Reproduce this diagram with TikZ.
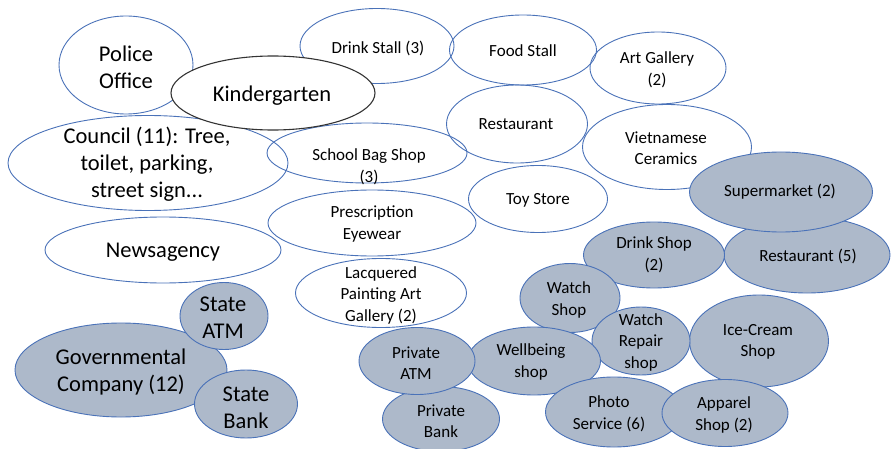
\documentclass[tikz,border=0pt]{standalone}
\usepackage{fontspec}
\setmainfont{Carlito}
\usetikzlibrary{shapes.geometric}
\definecolor{bl}{HTML}{4A72B8}
\definecolor{bfill}{HTML}{ADB9CA}
\tikzset{
  ell/.style={ellipse, draw=bl, line width=0.9pt, inner sep=0pt},
  wel/.style={ell},
  gel/.style={ell, fill=bfill},
  kel/.style={ellipse, draw=black!80, line width=1.1pt, fill=white, inner sep=0pt},
  big/.style={align=center, inner sep=0pt, yshift=-1pt, font=\fontsize{22.5}{27}\selectfont},
  sml/.style={align=center, inner sep=0pt, yshift=-1pt, font=\fontsize{17}{21.5}\selectfont},
}
\begin{document}
\begin{tikzpicture}[x=1pt,y=-1pt]
\useasboundingbox (0,0) rectangle (891,449);
% white (outline only) ellipses
\node[wel, minimum width=134pt, minimum height=98pt] (police) at (126,65) {};
\node[big] (policet) at (126,66) {Police\\Office};
\node[wel, minimum width=154pt, minimum height=75pt] (drinkstall) at (377,46) {};
\node[sml] (drinkstallt) at (378,47) {Drink Stall (3)};
\node[wel, minimum width=280pt, minimum height=95pt] (council) at (148,163) {};
\node[big] (councilt) at (147,163) {Council (11): Tree,\\toilet, parking,\\street sign...};
\node[wel, minimum width=200pt, minimum height=60pt] (bag) at (367,153) {};
\node[sml] (bagt) at (369,166) {School Bag Shop\\(3)};
\node[kel, minimum width=204pt, minimum height=74pt] (kinder) at (273,93) {};
\node[big] (kindert) at (272,95) {Kindergarten};
\node[wel, minimum width=147pt, minimum height=70pt] (food) at (523,50) {};
\node[sml] (foodt) at (523,50) {Food Stall};
\node[wel, minimum width=136pt, minimum height=72pt] (art) at (658,68) {};
\node[sml] (artt) at (657,69) {Art Gallery\\(2)};
\node[wel, minimum width=141pt, minimum height=78pt] (rest) at (517,124) {};
\node[sml] (restt) at (516,123) {Restaurant};
\node[wel, minimum width=169pt, minimum height=85pt] (viet) at (667,147) {};
\node[sml] (viett) at (666,147) {Vietnamese\\Ceramics};
\node[wel, minimum width=139pt, minimum height=67pt] (toy) at (538,199) {};
\node[sml] (toyt) at (538,199) {Toy Store};
\node[wel, minimum width=208pt, minimum height=66pt] (eye) at (372,223) {};
\node[sml] (eyet) at (372,223) {Prescription\\Eyewear};
\node[wel, minimum width=236pt, minimum height=66pt] (news) at (163,250) {};
\node[big] (newst) at (163,251) {Newsagency};
\node[wel, minimum width=171pt, minimum height=69pt] (lacq) at (381,293) {};
\node[sml] (lacqt) at (381,294) {Lacquered\\Painting Art\\Gallery (2)};
% filled ellipses
\node[gel, minimum width=166pt, minimum height=76pt] (rest5) at (807,255) {};
\node[sml] (rest5t) at (808,255) {Restaurant (5)};
\node[gel, minimum width=183pt, minimum height=80pt] (super) at (781,192) {};
\node[sml] (supert) at (780,191) {Supermarket (2)};
\node[gel, minimum width=141pt, minimum height=66pt] (drinkshop) at (654,255) {};
\node[sml] (drinkshopt) at (654,254) {Drink Shop\\(2)};
\node[gel, minimum width=100pt, minimum height=69pt] (watch) at (570,298) {};
\node[sml] (watcht) at (569,299) {Watch\\Shop};
\node[gel, minimum width=139pt, minimum height=92pt] (ice) at (759,341) {};
\node[sml] (icet) at (758,341) {Ice-Cream\\Shop};
\node[gel, minimum width=98pt, minimum height=68pt] (repair) at (641,341) {};
\node[sml] (repairt) at (641,341) {Watch\\Repair\\shop};
\node[gel, minimum width=133pt, minimum height=68pt] (well) at (534,361) {};
\node[sml] (wellt) at (531,361) {Wellbeing\\shop};
\node[gel, minimum width=117pt, minimum height=65pt] (pbank) at (441,419) {};
\node[sml] (pbankt) at (441,420) {Private\\Bank};
\node[gel, minimum width=116pt, minimum height=67pt] (patm) at (417,361) {};
\node[sml] (patmt) at (416,362) {Private\\ATM};
\node[gel, minimum width=137pt, minimum height=70pt] (photo) at (614,412) {};
\node[sml] (photot) at (609,413) {Photo\\Service (6)};
\node[gel, minimum width=126pt, minimum height=67pt] (apparel) at (725,413) {};
\node[sml] (apparelt) at (724,414) {Apparel\\Shop (2)};
\node[gel, minimum width=212pt, minimum height=94pt] (gov) at (121,370) {};
\node[big] (govt) at (121,371) {Governmental\\Company (12)};
\node[gel, minimum width=88pt, minimum height=67pt] (satm) at (224,316) {};
\node[big] (satmt) at (223,317) {State\\ATM};
\node[gel, minimum width=103pt, minimum height=68pt] (sbank) at (246,404) {};
\node[big] (sbankt) at (246,407) {State\\Bank};
\end{tikzpicture}
\end{document}
